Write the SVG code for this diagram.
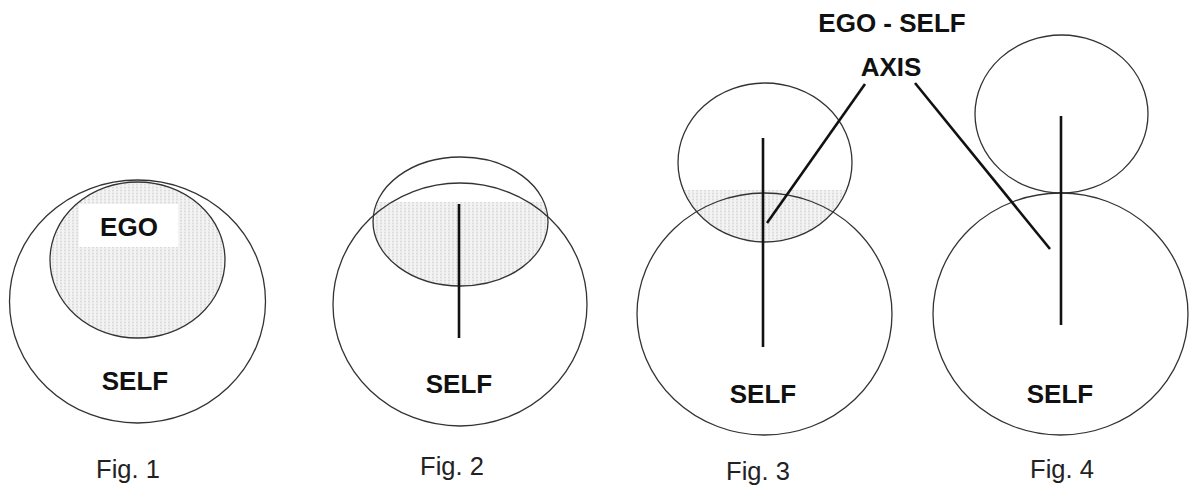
<svg xmlns="http://www.w3.org/2000/svg" width="1192" height="498" viewBox="0 0 1192 498">
<style>
.ring{fill:none;stroke:#333;stroke-width:1.3}
.axis{stroke:#111;stroke-width:2.6;stroke-linecap:butt}
.lbl{font-family:"Liberation Sans",Arial,sans-serif;font-weight:bold;font-size:26px;fill:#111;text-anchor:middle}
.fig{font-family:"Liberation Sans",Arial,sans-serif;font-size:25.5px;fill:#222;text-anchor:middle}
.shade{fill:url(#dots)}
</style>
<defs>
<pattern id="dots" width="4" height="3" patternUnits="userSpaceOnUse">
<rect width="4" height="3" fill="#f3f3f3"/>
<circle cx="1" cy="1.5" r="1" fill="#d9d9d9"/>
</pattern>
<clipPath id="c2"><ellipse cx="460.5" cy="221.5" rx="87.5" ry="64.5"/></clipPath>
<clipPath id="c3"><ellipse cx="765" cy="162.5" rx="87" ry="79.5"/></clipPath>
</defs>
<rect width="1192" height="498" fill="#fff"/>
<g id="fig1">
<ellipse class="shade" cx="137.5" cy="260" rx="87.5" ry="78"/>
<rect x="79" y="204" width="99" height="43" fill="#fff"/>
<ellipse class="ring" cx="137.5" cy="260" rx="87.5" ry="78"/>
<ellipse class="ring" cx="137.5" cy="301.5" rx="128" ry="121.5"/>
<text class="lbl" x="129" y="236">EGO</text>
<text class="lbl" x="135" y="390">SELF</text>
<text class="fig" x="128" y="478">Fig. 1</text>
</g>
<g id="fig2">
<rect class="shade" x="370" y="202" width="182" height="90" clip-path="url(#c2)"/>
<ellipse class="ring" cx="460.5" cy="221.5" rx="87.5" ry="64.5"/>
<ellipse class="ring" cx="460" cy="304.5" rx="127" ry="121.5"/>
<line class="axis" x1="459" y1="204" x2="459" y2="338"/>
<text class="lbl" x="459" y="393">SELF</text>
<text class="fig" x="452" y="475">Fig. 2</text>
</g>
<g id="fig3">
<rect class="shade" x="675" y="190" width="180" height="56" clip-path="url(#c3)"/>
<ellipse class="ring" cx="765" cy="162.5" rx="87" ry="79.5"/>
<ellipse class="ring" cx="764.5" cy="314" rx="127.5" ry="121"/>
<line class="axis" x1="763" y1="138" x2="763" y2="347"/>
<text class="lbl" x="763" y="403">SELF</text>
<text class="fig" x="758" y="480">Fig. 3</text>
</g>
<g id="fig4">
<ellipse class="ring" cx="1061.5" cy="114" rx="86.5" ry="79"/>
<ellipse class="ring" cx="1060.5" cy="314" rx="127.5" ry="121"/>
<line class="axis" x1="1061" y1="116" x2="1061" y2="325"/>
<text class="lbl" x="1060" y="403">SELF</text>
<text class="fig" x="1062" y="478">Fig. 4</text>
</g>
<g id="axis-label">
<text class="lbl" x="892" y="32">EGO - SELF</text>
<text class="lbl" x="891" y="76">AXIS</text>
</g>
<g id="connectors">
<line class="axis" x1="865" y1="84" x2="767" y2="223"/>
<line class="axis" x1="915" y1="83" x2="1050" y2="249"/>
</g>
</svg>
